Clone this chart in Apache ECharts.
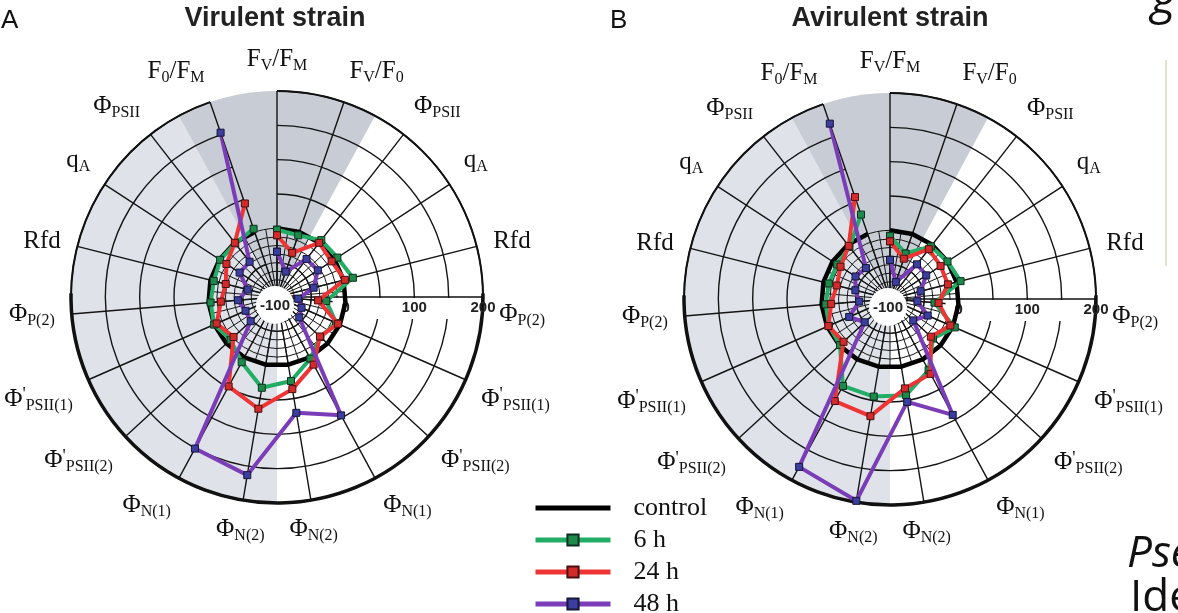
<!DOCTYPE html>
<html><head><meta charset="utf-8">
<script src="https://cdn.jsdelivr.net/npm/echarts@6/dist/echarts.min.js"></script>
<style>html,body{margin:0;padding:0;background:#fff}#c{width:1178px;height:613px}</style>
</head><body><div id="c"></div>
<script>
// ---------- data ----------
const categories = ['FV/FM','FV/F0','ΦPSII','qA','Rfd','ΦP(2)',"Φ'PSII(1)","Φ'PSII(2)",'ΦN(1)','ΦN(2)',
                    'ΦN(2)','ΦN(1)',"Φ'PSII(2)","Φ'PSII(1)",'ΦP(2)','Rfd','qA','ΦPSII','F0/FM'];
const seriesNames = ['control','6 h','24 h','48 h'];
const radialTickLabels = [-100, 0, 100, 200];
const panelTitles = ['Virulent strain','Avirulent strain'];
const panelLetters = ['A','B'];

const control = [0,0,0,0,0,0,0,0,0,0,0,0,0,0,0,0,0,0,0];

const virulent6h  = [-2,-5,5,5,14,-28,-6,-14,2,24,34,8,-8,0,-3,-5,-1,-1,5];
const virulent24h = [-10,-32,0,-5,2,-40,-3,-15,12,36,65,48,-14,-4,-18,-23,-12,0,44];
const virulent48h = [-34,-61,-30,-29,-45,-69,-61,-56,96,71,163,151,-48,-50,-43,-56,-35,-35,153];

const avirulent6h  = [-8,-30,-3,0,6,-35,3,-15,18,42,44,44,-1,-3,-6,-8,-8,-4,30];
const avirulent24h = [-16,-38,-8,-12,-13,-29,-4,-19,24,32,73,69,-8,-2,-14,-20,-14,-2,57];
const avirulent48h = [-43,-74,-36,-37,-54,-60,-40,-54,92,52,198,178,-50,-35,-55,-48,-40,-43,170];

// ---------- layout / style ----------
const SERIF = 'Liberation Serif', SANS = 'Liberation Sans';
const R = 206;
const RMIN = -100, RMAX = 200;
const RIN = R * (0 - RMIN) / (RMAX - RMIN);
const D2R = Math.PI / 180;
const STEP = 360 / categories.length;
const WEDGE = 1.5 * STEP;
const GRID = '#141414';

const panels = [
  {center:[277,297], titleX:275, letterX:1, data:{'control':control,'6 h':virulent6h,'24 h':virulent24h,'48 h':virulent48h}},
  {center:[890,299], titleX:890, letterX:610, data:{'control':control,'6 h':avirulent6h,'24 h':avirulent24h,'48 h':avirulent48h}}
];

const STYLE = {
  'control': {line:'#000', fill:'#000', border:'#000', width:4.5},
  '6 h':  {line:'#22ad67', fill:'#1d8a4b', border:'#0e3020', width:4},
  '24 h': {line:'#ee3434', fill:'#d22b2b', border:'#4a1010', width:4},
  '48 h': {line:'#7a3db7', fill:'#3b3e9c', border:'#16163a', width:4}
};

function richName(n){
  if (n === 'Rfd') return '{m|Rfd}';
  if (n.indexOf('/') >= 0) {
    const [a,b] = n.split('/');
    return '{m|' + a[0] + '}{s|' + a.slice(1) + '}{m|/' + b[0] + '}{s|' + b.slice(1) + '}';
  }
  if (n[0] === 'q') return '{m|q}{s|' + n.slice(1) + '}';
  if (n[1] === "'") return "{m|Φ}{p|'}{s|" + n.slice(2) + '}';
  return '{m|Φ}{s|' + n.slice(1) + '}';
}

const labelRich = {
  m: {fontFamily:SERIF, fontSize:25, lineHeight:27, verticalAlign:'top', color:'#111'},
  s: {fontFamily:SERIF, fontSize:16, lineHeight:16, padding:[13,0,0,0], verticalAlign:'bottom', color:'#111'},
  p: {fontFamily:SERIF, fontSize:18, lineHeight:18, verticalAlign:'top', color:'#111'}
};

function closed(vals){ return vals.map((v,i)=>[v,i]).concat([[vals[0],0]]); }

function decoRender(params){
  const cs = params.coordSys, cx = cs.cx, cy = cs.cy, r = cs.r;
  return {type:'group', children:[
    {type:'sector', shape:{cx, cy, r0:0, r, startAngle:90*D2R, endAngle:270*D2R, clockwise:true}, style:{fill:'#dfe3e9'}},
    {type:'sector', shape:{cx, cy, r0:0, r, startAngle:(-90-WEDGE)*D2R, endAngle:(-90+WEDGE)*D2R, clockwise:true}, style:{fill:'#c8ccd4'}}
  ]};
}
function bandRender(params){
  const cs = params.coordSys, cx = cs.cx, cy = cs.cy, r = cs.r;
  return {type:'group', children:[
    {type:'rect', shape:{x:cx + r*0.27, y:cy + 1, width:r*0.72, height:21}, style:{fill:'#fff'}},
    {type:'arc', shape:{cx, cy, r, startAngle:-1*D2R, endAngle:181*D2R, clockwise:true}, style:{stroke:'#111', lineWidth:3.5, fill:null}}
  ]};
}
function holeRender(params){
  const cs = params.coordSys, cx = cs.cx, cy = cs.cy;
  return {type:'group', children:[
    {type:'circle', shape:{cx:cx-2, cy:cy+8, r:19}, style:{fill:'#fff'}},
    {type:'text', x:cx-2, y:cy+9, style:{text:String(radialTickLabels[0]), fontFamily:SANS, fontWeight:'bold', fontSize:15, fill:'#222', align:'center', verticalAlign:'middle'}}
  ]};
}

const polar = [], angleAxis = [], radiusAxis = [], series = [], title = [];
panels.forEach((pn, k) => {
  const base = k*3;
  polar.push({center:pn.center, radius:[0,R]}, {center:pn.center, radius:[0,RIN]}, {center:pn.center, radius:[0,R]});
  // main
  angleAxis.push({polarIndex:base, type:'category', data:categories, boundaryGap:false, startAngle:90, clockwise:true, z:1,
    axisLine:{show:true, lineStyle:{color:'#111', width:2}}, axisTick:{show:false},
    splitLine:{show:true, interval:0, lineStyle:{color:GRID, width:1.4}},
    axisLabel:{show:true, interval:0, margin:17, formatter:(v)=>richName(v), rich:labelRich}});
  radiusAxis.push({polarIndex:base, type:'value', min:RMIN, max:RMAX, interval:50, z:1,
    axisLine:{show:false}, axisTick:{show:false}, axisLabel:{show:false},
    splitLine:{show:true, lineStyle:{color:GRID, width:1.4}}});
  // inner dense grid
  angleAxis.push({polarIndex:base+1, type:'value', min:0, max:360, interval:STEP/2, startAngle:90, z:1,
    axisLine:{show:false}, axisTick:{show:false}, axisLabel:{show:false},
    splitLine:{show:true, lineStyle:{color:GRID, width:1}}});
  radiusAxis.push({polarIndex:base+1, type:'value', min:RMIN, max:0, interval:12.5, z:1,
    axisLine:{show:false}, axisTick:{show:false}, axisLabel:{show:false},
    splitLine:{show:true, lineStyle:{color:GRID, width:1}}});
  // radial value axis (horizontal)
  angleAxis.push({polarIndex:base+2, type:'value', min:0, max:360, startAngle:0, show:false,
    axisLine:{show:false}, axisTick:{show:false}, axisLabel:{show:false}, splitLine:{show:false}});
  radiusAxis.push({polarIndex:base+2, type:'value', min:RMIN, max:RMAX, interval:50, z:3,
    axisLine:{show:true, lineStyle:{color:'#111', width:1.5}}, axisTick:{show:false}, splitLine:{show:false},
    axisLabel:{show:true, margin:-3, verticalAlign:'top', fontFamily:SANS, fontWeight:'bold', fontSize:15, color:'#222',
      formatter:(v)=> (v !== radialTickLabels[0] && radialTickLabels.indexOf(v) >= 0) ? String(v) : ''}});

  series.push({type:'custom', coordinateSystem:'polar', polarIndex:base, data:[[0,0]], renderItem:decoRender, z:0, silent:true, animation:false});
  series.push({type:'custom', coordinateSystem:'polar', polarIndex:base, data:[[0,0]], renderItem:bandRender, z:2, silent:true, animation:false});
  series.push({type:'custom', coordinateSystem:'polar', polarIndex:base+2, data:[[0,0]], renderItem:holeRender, z:4, silent:true, animation:false});

  seriesNames.forEach((nm, j) => {
    const st = STYLE[nm];
    series.push({type:'line', name:nm, coordinateSystem:'polar', polarIndex:base, data:closed(pn.data[nm]),
      symbol: nm === 'control' ? 'none' : 'rect', symbolSize:7, showSymbol: nm !== 'control',
      lineStyle:{color:st.line, width:st.width}, itemStyle:{color:st.fill, borderColor:st.border, borderWidth:1},
      z:5+j, silent:true, animation:false});
  });

  title.push({text:panelTitles[k], left:pn.titleX, top:5, padding:0, textAlign:'center',
    textStyle:{fontFamily:SANS, fontWeight:'bold', fontSize:27, color:'#222'}});
  title.push({text:panelLetters[k], left:pn.letterX, top:8, padding:0,
    textStyle:{fontFamily:SANS, fontWeight:'normal', fontSize:26, color:'#111'}});
});

const legendData = seriesNames.map(n => n === 'control' ? {name:n, itemStyle:{opacity:0}} : {name:n});

const chart = echarts.init(document.getElementById('c'), null, {renderer:'canvas'});
chart.setOption({
  animation:false,
  backgroundColor:'#fff',
  title,
  polar, angleAxis, radiusAxis, series,
  legend:{data:legendData, orient:'vertical', left:533, top:495, height:170, itemWidth:75, itemHeight:14, itemGap:6,
    padding:0, selectedMode:false, lineStyle:{width:5},
    textStyle:{fontFamily:SERIF, fontSize:26, color:'#111', padding:[0,0,0,18]}},
  graphic:[
    {type:'text', x:1151, y:-24, style:{text:'g', fontSize:48, fontStyle:'italic', fontFamily:'Open Sans', fill:'#111'}},
    {type:'line', shape:{x1:1166, y1:60, x2:1166, y2:266}, style:{stroke:'#e2e2cf', lineWidth:2}},
    {type:'text', x:1127, y:532, style:{text:'Pseudomonas', fontSize:44, fontStyle:'italic', fontFamily:'Open Sans', fill:'#111'}},
    {type:'text', x:1130, y:576, style:{text:'Identification', fontSize:44, fontFamily:'Open Sans', fill:'#111'}}
  ]
});
</script></body></html>
